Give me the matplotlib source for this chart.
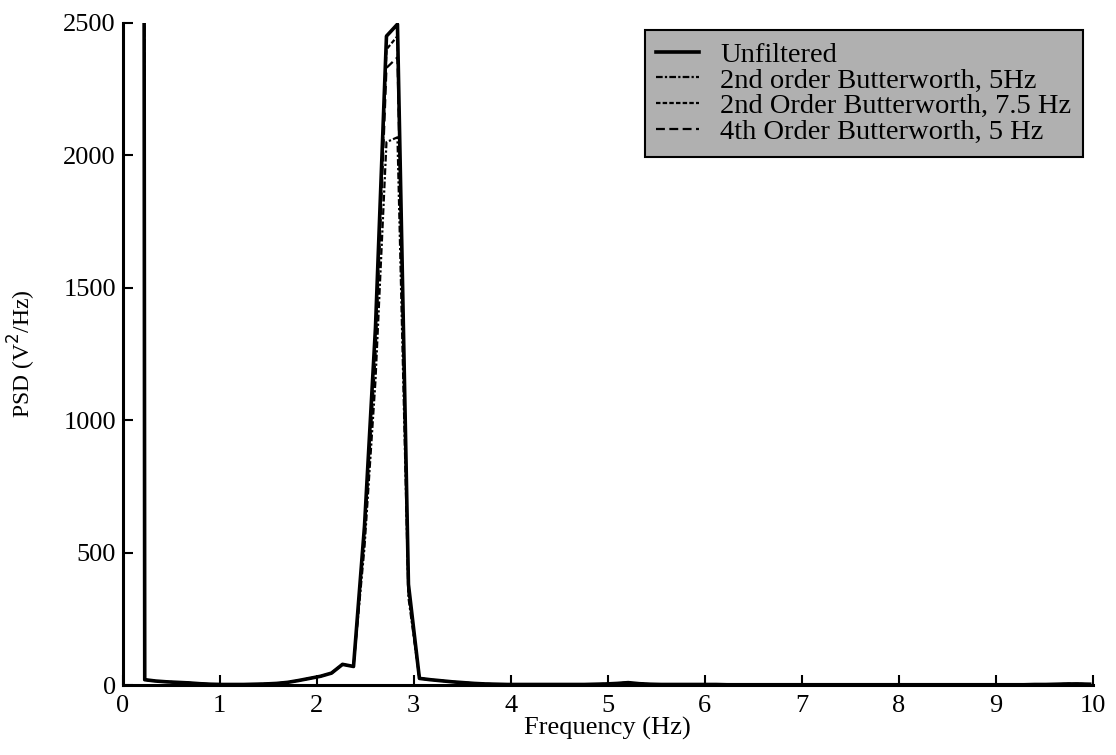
import numpy as np
import matplotlib.pyplot as plt

plt.rcParams['font.family'] = ['Liberation Serif', 'DejaVu Serif']

df = 0.1133
freq = np.arange(89) * df

# PSD (V^2/Hz) of the unfiltered signal, one value per bin
unfiltered = [60000, 45000, 20, 15, 12, 10, 8, 5, 3, 2,
              2, 2, 3, 4, 6, 10, 17, 25, 33, 45,
              78, 70, 600, 1350, 2450, 2495, 380, 25, 20, 16,
              12, 9, 6, 4, 3, 2, 2, 2, 2, 2,
              2, 2, 2, 3, 4, 6, 9, 5, 3, 2,
              2, 2, 2, 2, 2, 1, 1, 1, 1, 1,
              1, 1, 1, 1, 1, 1, 1, 1, 1, 1,
              1, 1, 1, 1, 1, 1, 1, 1, 1, 1,
              1, 1, 1, 2, 2, 3, 4, 4, 3]

# filtered versions only differ visibly around the peak
bw2_5 = list(unfiltered)
bw2_5[22:27] = [520, 1150, 2050, 2068, 330]
bw2_75 = list(unfiltered)
bw2_75[22:27] = [580, 1290, 2400, 2450, 365]
bw4_5 = list(unfiltered)
bw4_5[22:27] = [560, 1240, 2330, 2370, 350]

fig = plt.figure(figsize=(11.16, 7.55), dpi=100)
ax = fig.add_axes([0.110, 0.0927, 0.869, 0.877])

ax.plot(freq, unfiltered, color='black', lw=2.6, ls='-', label='Unfiltered')
ax.plot(freq, bw2_5, color='black', lw=1.6, ls=(0, (3, 1, 1, 1)),
        label='2nd order Butterworth, 5Hz')
ax.plot(freq, bw2_75, color='black', lw=1.6, ls=(0, (2, 1)),
        label='2nd Order Butterworth, 7.5 Hz')
ax.plot(freq, bw4_5, color='black', lw=1.6, ls=(0, (4, 2)),
        label='4th Order Butterworth, 5 Hz')

ax.set_xlim(0, 10)
ax.set_ylim(0, 2500)
ax.set_xticks(range(0, 11))
ax.set_yticks([0, 500, 1000, 1500, 2000, 2500])
ax.tick_params(direction='in', length=7, width=1.5, labelsize=19)
ax.tick_params(axis='x', pad=7)
ax.tick_params(axis='y', pad=5)
for s in ['top', 'right']:
    ax.spines[s].set_visible(False)
for s in ['left', 'bottom']:
    ax.spines[s].set_linewidth(2.2)

ax.set_xlabel('Frequency (Hz)', fontsize=19, labelpad=0)
ax.set_ylabel('PSD (V$^2$/Hz)', fontsize=17, labelpad=18)

leg = ax.legend(loc='upper right', bbox_to_anchor=(0.970, 0.960),
                bbox_transform=fig.transFigure, fontsize=20.5,
                frameon=True, fancybox=False, framealpha=1,
                facecolor='#b0b0b0', edgecolor='black',
                handlelength=1.5, handletextpad=0.75, labelspacing=0.0,
                borderpad=0.4, borderaxespad=0)
leg.get_frame().set_linewidth(1.5)

fig.savefig('out.png', dpi=100)
